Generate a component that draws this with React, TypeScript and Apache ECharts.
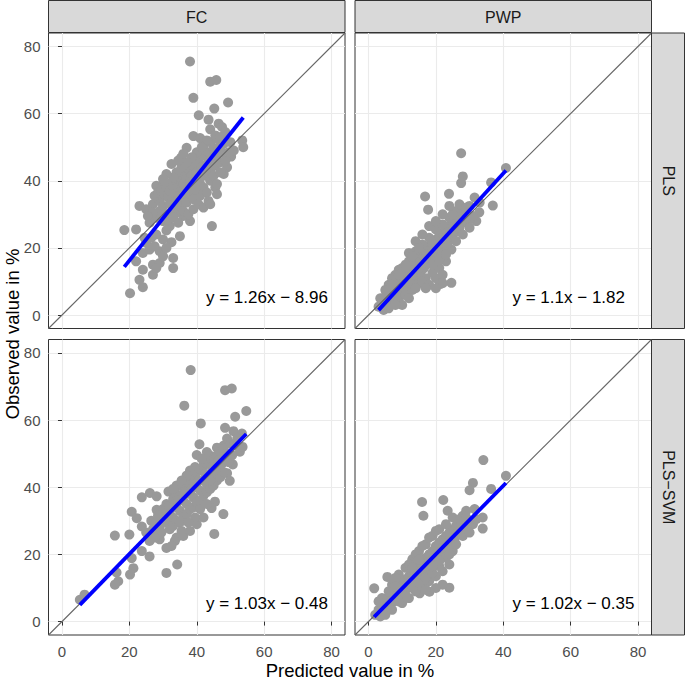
import React, { useEffect, useRef } from "react";
import * as echarts from "echarts";

// ---------- data ----------
const colLabels = ["FC", "PWP"];
const rowLabels = ["PLS", "PLS\u2212SVM"];
const tickValues = [0, 20, 40, 60, 80];
const axisMin = -4;
const axisMax = 84;
const xTitle = "Predicted value in %";
const yTitle = "Observed value in %";

// FC, PLS  [predicted, observed]
const fcPls: number[][] = [
  [38,75.5],[44,69.5],[45.8,70],[39,64.7],[49.3,63.3],[45.2,61.5],[40.6,59.5],[43.5,58.2],[46.5,57],[47.5,56],
  [44,55.3],[48.5,54.5],[39,53.3],[41,52.7],[53.5,52],[37,49.8],[42,50.5],[44,51.5],[46,52.5],[53.8,50],
  [50.2,47.2],[35.3,46.8],[32.5,45],[49,44],[48,42],[28,38.5],[30,39],[32.5,39.5],[45.5,38],[23,32.5],
  [25,31.5],[27,33],[29,34],[18.5,25.3],[22,25.5],[44.5,26.5],[38,28],[36,29.5],[34,30.5],[32,26.5],
  [31,25.2],[32.5,21.7],[33,17],[33,14],[24,18.5],[26,19.5],[29,19],[22,16],[24,13.5],[27,15],
  [29,15.5],[30,17.5],[23,10.5],[24,8.3],[20.2,6.5],[27,12],[28,14],
  [27.5,35.5],[28.5,36.5],[29.5,37],[30.5,36],[31,38],[31.5,35],[32,37],[33,38.5],[33.5,36],[34,40],
  [34.5,38],[35,41],[35.5,37.5],[36,39],[36.5,42],[37,40.5],[37.5,43.5],[38,38],[38.5,41.5],[39,44.5],
  [39.5,40],[40,42.5],[40.5,46],[41,39],[41.5,44],[42,47.5],[42.5,41.5],[43,45],[43.5,48.5],[44,43],
  [44.5,46.5],[45,49.5],[45.5,44.5],[46,47.5],[46.5,50],[47,45.5],[47.5,48.5],[48,51],[29,31],[30,32.5],
  [31,30],[32,33],[33,31.5],[34,34],[35,32.5],[36,35],[37,33.5],[38,36],[39,34.5],[40,37],
  [41,35.5],[42,38],[43,36.5],[44,40],[45,41.5],[46,39],[47,42.5],[30,28],[31.5,28.5],[33,29],
  [34.5,27.5],[36,31],[37.5,30],[39,31.5],[40.5,33],[42,32],[43.5,34],[28,29],[26,27.5],[27,30.5],
  [25.5,29.5],[35,35.5],[36.5,36.5],[38,39.5],[39.5,37.5],[41,41],[42.5,43],[40,48.5],[38.5,47],[37,45.5],
  [35.5,44],[34,42.5],[33,41],[43,52],[45.5,53.5],[47,53],[41.5,50],[36,48],[34.5,46],[31,42],
  [30,40.5],[48.5,46],[46,36],[44,33],[49.5,48.5],[50,51.5],[51,49],[28,24],[30,22.5],[26.5,23],
  [25,21.5],[31,20],[35,23.5],[27.5,20.5],[24.5,23]
];

// FC, PLS-SVM
const fcSvm: number[][] = [
  [38.2,74.9],[48.4,68.9],[50.4,69.4],[36.3,64.3],[54.7,62.7],[51.4,61],[41.2,59],[48.4,57.7],[50.9,56.7],[53.4,56],
  [40.8,52.8],[46,51.8],[48,52.4],[49,54.5],[40,49.6],[43.7,49.6],[45.2,49],[52.8,50.6],[53.6,52],[50.7,46.8],
  [49,44.2],[49.8,41.9],[31.6,38.7],[23.7,37],[26.1,38.3],[28.1,37.3],[45.4,35.7],[44.4,33.8],[47.9,32],[20.7,32.7],
  [22.2,30.8],[28.1,33.3],[30,32.8],[23.7,28.3],[15.7,25.6],[20,25.9],[45.2,26.1],[28,25.5],[29,24.5],[31,21.9],
  [23.7,21],[26,19.4],[20.7,18.9],[21.2,15.9],[20.2,14],[34.2,17],[31,14.5],[16.2,14.6],[16.7,12],[15.7,11],
  [5.3,6.5],[6.7,8],
  [27,27.5],[28,29],[29,28],[30,30.5],[31,29.5],[32,32],[33,31],[34,34],[35,33],[36,36],
  [37,35],[38,38],[39,37],[40,40],[41,39],[42,42],[43,41],[44,44],[45,43],[46,46],
  [47,45],[48,48],[30,33.5],[31,35],[32,34.5],[33,36.5],[34,38],[35,37.5],[36,40],[37,41.5],
  [38,41],[39,43],[40,44.5],[41,45.5],[42,46.5],[43,47],[44,48.5],[45,47.5],[46,49.5],[47,50.5],
  [48,51.5],[49,50],[50,53],[51,52.5],[52,54.5],[32,27.5],[33,28.5],[34,30],[35,29.5],[36,31.5],
  [37,32],[38,33.5],[39,34],[40,35.5],[41,36],[42,37.5],[43,38.5],[44,39.5],[45,40.5],[46,42],
  [47,43],[48,44.5],[36,25.5],[38,27],[40,29],[42,31],[41,33.5],[43,35],[39.5,31],[37.5,29.5],
  [35.5,27],[34,25],[33.5,24],[32.5,22.5],[29.5,26.5],[27.5,25],[26,24],[25,26.5],[26.5,30],[28.5,31.5],
  [34.5,36],[36.5,38.5],[38.5,39.5],[40.5,42],[42.5,44],[44.5,46],[46.5,48],[47.5,47],[49.5,47.5],[50.5,49.5],
  [44,42],[45.5,45],[43,50.5],[41.5,48.5],[39.5,46],[38,45],[37,43.5],[35.5,42],[34,40.5],[33,39.5]
];

// PWP, PLS
const pwpPls: number[][] = [
  [27.5,48.2],[40.8,43.8],[28,41.3],[27.5,39.3],[36.4,39.5],[16.8,35.3],[23.9,36.1],[36.9,32.6],[32.9,30.6],[32,28],
  [17.7,31.4],[24.1,22.5],[24.6,19.5],[21.2,9.2],[24.6,9.6],[33,33.5],[30,32.5],[28.5,31],[31.5,35],
  [3,2.5],[4,4],[4.5,1.5],[5,5.5],[5.5,3],[6,6.5],[6.5,4],[7,7.5],[7.5,5],[8,9],
  [8.5,6],[9,10],[9.5,7],[10,11],[10.5,8],[11,12.5],[11.5,9],[12,13],[12.5,10],[13,14.5],
  [13.5,11],[14,15.5],[14.5,12],[15,17],[15.5,13],[16,18],[16.5,14],[17,19],[17.5,15.5],[18,20.5],
  [18.5,16.5],[19,21.5],[19.5,17.5],[20,22.5],[20.5,18.5],[21,23.5],[21.5,19.5],[22,24.5],[22.5,20.5],[23,25.5],
  [23.5,21.5],[24,26.5],[24.5,23.5],[25,27.5],[25.5,24.5],[26,28.5],[26.5,26],[27,29],[28,27.5],[29,30],
  [30,28.5],[31,29.5],[8,12],[10,14],[12,16],[14,19],[16,21],[18,23],[20,25.5],[22,27],
  [24,29],[26,31],[9,4.5],[11,6],[13,7.5],[15,9.5],[17,11],[19,12.5],[21,14],[23,16],
  [6,9],[7,11],[9,13.5],[12,18.5],[14,22],[16,24],[18,26.5],[20,28],[10,3],[12,5],
  [14,8],[16,10],[18,9],[20,11],[22,12],[19,15],[21,16.5],[23,18],[15,14],[13,12],
  [11,10],[17,17],[19,19],[21,21],[23,23],[25,25],[27,26],[15,20],[13,17.5],[11,15],
  [9,12],[7,9],[5,7.5],[3.5,5],[6,2],[8,3],[22,9.5],[25,30],[27,33],[29,32],
  [24,32.5],[22,30],[26,22],[28,24],[20,8],[17,8],[30,26]
];

// PWP, PLS-SVM
const pwpSvm: number[][] = [
  [34.1,48.1],[40.8,43.4],[31,41.3],[30,39.1],[36.4,39.5],[15.9,35.6],[22.2,36.2],[16.3,31.5],[33.9,31],[33.9,27.7],
  [5.6,13.3],[1.7,9.9],[15.2,8.4],[18.1,8.9],[24,10.1],[29,33],[31.5,33.5],[28,31.5],[23.5,33],
  [2,2],[3,3.5],[3.5,1.5],[4,5],[4.5,3],[5,6],[5.5,4],[6,7],[6.5,5],[7,8.5],
  [7.5,6],[8,9.5],[8.5,7],[9,10.5],[9.5,8],[10,11.5],[10.5,9],[11,12.5],[11.5,10],[12,13.5],
  [12.5,11],[13,14.5],[13.5,12],[14,15.5],[14.5,13],[15,17],[15.5,14],[16,18],[16.5,15],[17,19],
  [17.5,16],[18,20],[18.5,17],[19,21],[19.5,18],[20,22.5],[20.5,19],[21,23.5],[21.5,20],[22,24.5],
  [22.5,21.5],[23,25.5],[23.5,22.5],[24,26.5],[24.5,23.5],[25,27.5],[25.5,24.5],[26,28.5],[27,27],[28,29.5],
  [29,28],[30,30],[31,29],[32,30.5],[9,14],[11,16],[13,18.5],[15,21],[17,23],[19,25.5],
  [21,27.5],[23,29],[25,31],[10,5.5],[12,7],[14,9],[16,10.5],[18,12],[20,13.5],[22,15],
  [24,17],[7,11],[8,13],[12,17],[14,20],[16,22.5],[18,25],[20,27],[11,8],[13,10],
  [15,11.5],[17,13],[19,14.5],[21,16.5],[23,19],[25,21],[10,10],[12,12],[14,14],[16,16],
  [18,18],[20,20],[22,22],[24,24],[26,26],[6,9],[4,7],[3,6],[5,2],[7,3.5],
  [9,6],[27,30.5],[29,31],[26,23],[28,25.5],[22,11],[20,10],[17,9.5],[8,10.5],[13,16],
  [15,18.5],[19,16.5],[21,18],[24,20],[30,26.5]
];

// fitted lines: [slope, intercept]
const fitFcPls = [1.26, -8.96];
const fitPwpPls = [1.1, -1.82];
const fitFcSvm = [1.03, -0.48];
const fitPwpSvm = [1.02, -0.35];
const eqLabels = ["y = 1.26x \u2212 8.96", "y = 1.1x \u2212 1.82", "y = 1.03x \u2212 0.48", "y = 1.02x \u2212 0.35"];

// ---------- layout ----------
const W = 685;
const H = 679;
const colLeft = [48.5, 355];
const panelW = 296.5;
const rowTop = [33, 339.5];
const panelH = 295.5;
const stripSize = 32.5;
const FONT = '"Liberation Sans", Arial, Helvetica, sans-serif';

export default function App() {
  const ref = useRef<HTMLDivElement>(null);

  useEffect(() => {
    if (!ref.current) return;
    const chart = echarts.init(ref.current, null, { renderer: "svg" });

    const panels = [
      { pts: fcPls, fit: fitFcPls, eq: eqLabels[0], r: 0, c: 0 },
      { pts: pwpPls, fit: fitPwpPls, eq: eqLabels[1], r: 0, c: 1 },
      { pts: fcSvm, fit: fitFcSvm, eq: eqLabels[2], r: 1, c: 0 },
      { pts: pwpSvm, fit: fitPwpSvm, eq: eqLabels[3], r: 1, c: 1 },
    ];

    const grids: any[] = [];
    const xAxes: any[] = [];
    const yAxes: any[] = [];
    const series: any[] = [];
    const graphics: any[] = [];

    panels.forEach((p, i) => {
      grids.push({
        left: colLeft[p.c],
        top: rowTop[p.r],
        width: panelW,
        height: panelH,
        show: true,
        borderColor: "#333333",
        borderWidth: 1,
        backgroundColor: "#ffffff",
        containLabel: false,
      });
      const showX = p.r === 1;
      const showY = p.c === 0;
      xAxes.push({
        type: "value",
        gridIndex: i,
        min: axisMin,
        max: axisMax,
        axisLine: { show: false },
        axisTick: {
          show: showX,
          customValues: tickValues,
          length: 4,
          lineStyle: { color: "#333333", width: 1 },
        },
        axisLabel: {
          show: showX,
          customValues: tickValues,
          color: "#4D4D4D",
          fontSize: 15,
          fontFamily: FONT,
          margin: 9,
        },
        splitLine: { show: true, lineStyle: { color: "#EBEBEB", width: 1.1 } },
      });
      yAxes.push({
        type: "value",
        gridIndex: i,
        min: axisMin,
        max: axisMax,
        axisLine: { show: false },
        axisTick: {
          show: showY,
          customValues: tickValues,
          length: 4,
          lineStyle: { color: "#333333", width: 1 },
        },
        axisLabel: {
          show: showY,
          customValues: tickValues,
          color: "#4D4D4D",
          fontSize: 15,
          fontFamily: FONT,
          margin: 8,
        },
        splitLine: { show: true, lineStyle: { color: "#EBEBEB", width: 1.1 } },
      });

      series.push({
        type: "scatter",
        xAxisIndex: i,
        yAxisIndex: i,
        data: p.pts,
        symbol: "circle",
        symbolSize: 10,
        itemStyle: { color: "#999999", opacity: 1 },
        silent: true,
        z: 2,
      });
      series.push({
        type: "line",
        xAxisIndex: i,
        yAxisIndex: i,
        data: [
          [axisMin, axisMin],
          [axisMax, axisMax],
        ],
        symbol: "none",
        lineStyle: { color: "#666666", width: 1.1 },
        silent: true,
        z: 3,
      });
      const xs = p.pts.map((d) => d[0]);
      const x0 = Math.min(...xs);
      const x1 = Math.max(...xs);
      series.push({
        type: "line",
        xAxisIndex: i,
        yAxisIndex: i,
        data: [
          [x0, p.fit[0] * x0 + p.fit[1]],
          [x1, p.fit[0] * x1 + p.fit[1]],
        ],
        symbol: "none",
        lineStyle: { color: "#0000FF", width: 3.8, cap: "butt" },
        silent: true,
        z: 4,
      });

      graphics.push({
        type: "text",
        x: colLeft[p.c] + 157.5,
        y: rowTop[p.r] + 264,
        z: 10,
        style: {
          text: p.eq,
          fill: "#000000",
          fontSize: 17,
          fontFamily: FONT,
          align: "left",
          verticalAlign: "middle",
        },
      });
    });

    // top strips
    colLabels.forEach((lab, c) => {
      graphics.push({
        type: "rect",
        shape: { x: colLeft[c], y: 0.5, width: panelW, height: stripSize - 0.5 },
        style: { fill: "#D9D9D9", stroke: "#333333", lineWidth: 1 },
        z: 5,
      });
      graphics.push({
        type: "text",
        x: colLeft[c] + panelW / 2,
        y: 17,
        z: 6,
        style: {
          text: lab,
          fill: "#1A1A1A",
          fontSize: 16,
          fontFamily: FONT,
          align: "center",
          verticalAlign: "middle",
        },
      });
    });

    // right strips
    const stripX = colLeft[1] + panelW;
    rowLabels.forEach((lab, r) => {
      graphics.push({
        type: "rect",
        shape: { x: stripX, y: rowTop[r], width: W - 0.5 - stripX, height: panelH },
        style: { fill: "#D9D9D9", stroke: "#333333", lineWidth: 1 },
        z: 5,
      });
      graphics.push({
        type: "text",
        x: (stripX + W - 0.5) / 2,
        y: rowTop[r] + panelH / 2,
        rotation: -Math.PI / 2,
        z: 6,
        style: {
          text: lab,
          fill: "#1A1A1A",
          fontSize: 16,
          fontFamily: FONT,
          align: "center",
          verticalAlign: "middle",
        },
      });
    });

    // axis titles
    graphics.push({
      type: "text",
      x: (colLeft[0] + stripX) / 2,
      y: 670,
      style: {
        text: xTitle,
        fill: "#000000",
        fontSize: 18.5,
        fontFamily: FONT,
        align: "center",
        verticalAlign: "middle",
      },
    });
    graphics.push({
      type: "text",
      x: 12,
      y: (rowTop[0] + rowTop[1] + panelH) / 2,
      rotation: Math.PI / 2,
      style: {
        text: yTitle,
        fill: "#000000",
        fontSize: 18.5,
        fontFamily: FONT,
        align: "center",
        verticalAlign: "middle",
      },
    });

    chart.setOption({
      animation: false,
      backgroundColor: "#ffffff",
      grid: grids,
      xAxis: xAxes,
      yAxis: yAxes,
      series,
      graphic: graphics,
    });

    return () => chart.dispose();
  }, []);

  return (
    <div
      ref={ref}
      style={{ position: "fixed", left: 0, top: 0, width: W, height: H }}
    />
  );
}
